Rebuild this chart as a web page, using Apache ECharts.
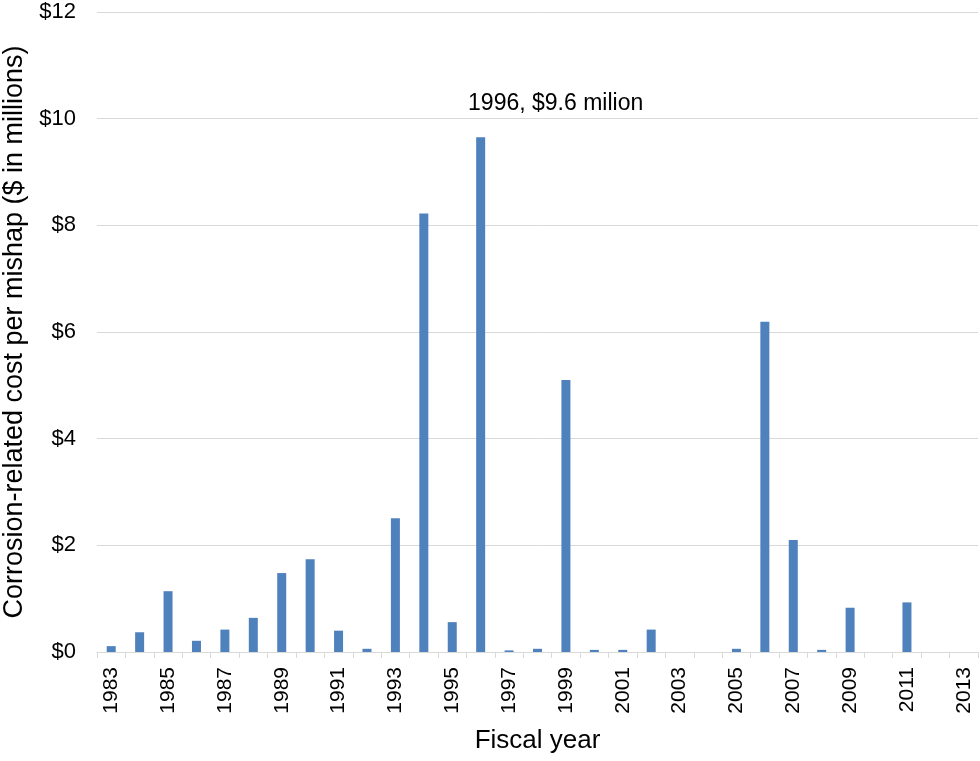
<!DOCTYPE html>
<html>
<head>
<meta charset="utf-8">
<script src="https://cdn.jsdelivr.net/npm/echarts@6/dist/echarts.min.js"></script>
<style>
  html, body { margin: 0; padding: 0; background: #fff; }
  #chart { width: 980px; height: 761px; }
</style>
</head>
<body>
<div id="chart"></div>
<script>
// fiscal years and cost per mishap ($ millions)
var years = [];
for (var y = 1983; y <= 2013; y++) years.push(String(y));
var costs = [
  0.11, 0.37, 1.14, 0.21, 0.42, 0.64, 1.48, 1.74, 0.40, 0.06,
  2.51, 8.22, 0.56, 9.65, 0.03, 0.06, 5.10, 0.04, 0.04, 0.42,
  0, 0, 0.06, 6.19, 2.10, 0.04, 0.83, 0, 0.93, 0, 0
];
var yTicks = [0, 2, 4, 6, 8, 10, 12];
var peakYear = "1996";
var peakLabel = "1996, $9.6 milion";

var chart = echarts.init(document.getElementById("chart"));
var font = "Liberation Sans, Arial, sans-serif";

var option = {
  backgroundColor: "#fff",
  animation: false,
  grid: { left: 97, right: 2, top: 12, bottom: 109, outerBoundsMode: "none" },
  xAxis: {
    type: "category",
    data: years,
    name: "Fiscal year",
    nameLocation: "middle",
    nameGap: 76,
    nameTextStyle: { fontFamily: font, fontSize: 26, color: "#000" },
    axisLine: { lineStyle: { color: "#d9d9d9", width: 1 } },
    axisTick: { show: true, interval: 0, length: 6, lineStyle: { color: "#d9d9d9" } },
    axisLabel: {
      interval: 1,
      rotate: 90,
      margin: 15,
      fontFamily: font,
      fontSize: 21,
      color: "#000"
    }
  },
  yAxis: {
    type: "value",
    min: yTicks[0],
    max: yTicks[yTicks.length - 1],
    interval: 2,
    name: "Corrosion-related cost per mishap ($ in millions)",
    nameLocation: "middle",
    nameGap: 65,
    nameTextStyle: { fontFamily: font, fontSize: 27, color: "#000" },
    axisLine: { show: false },
    axisTick: { show: false },
    splitLine: { lineStyle: { color: "#d9d9d9", width: 1 } },
    axisLabel: {
      margin: 21,
      fontFamily: font,
      fontSize: 22,
      color: "#000",
      formatter: function (v) { return "$" + v; }
    }
  },
  series: [
    {
      type: "bar",
      barWidth: 9,
      itemStyle: { color: "#4f81bd" },
      data: costs.map(function (v, i) {
        if (years[i] === peakYear) {
          return {
            value: v,
            label: {
              show: true,
              position: "top",
              offset: [75, -17],
              formatter: peakLabel,
              fontFamily: font,
              fontSize: 23,
              color: "#000"
            }
          };
        }
        return v;
      })
    }
  ]
};
chart.setOption(option);
</script>
</body>
</html>
